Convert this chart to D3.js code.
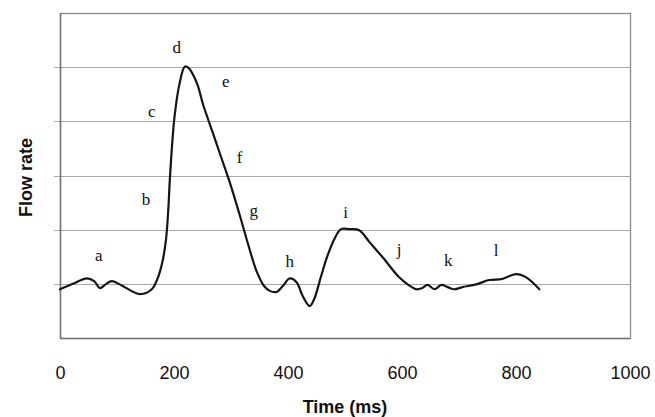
<!DOCTYPE html>
<html>
<head>
<meta charset="utf-8">
<script src="https://cdn.jsdelivr.net/npm/d3@7"></script>
<style>
  body { margin: 0; background: #fff; }
  .chart text { font-family: "Liberation Sans", Arial, sans-serif; }
</style>
</head>
<body>
<div class="chart"></div>
<script>
// flow trace (time in ms, flow in grid units)
const time = [0, 25, 47, 60, 70, 80, 91, 110, 140, 161, 172, 180, 186, 190, 193, 201, 210, 219, 225, 240,
  251, 268, 280, 298, 315, 330, 345, 358, 368, 380, 391, 403, 415, 426, 438, 446, 458, 469, 481, 493,
  508, 525, 543, 566, 595, 610, 625, 635, 645, 657, 669, 680, 692, 706, 730, 753, 776, 800, 818, 841]
const flow = [0.90, 1.01, 1.10, 1.05, 0.92, 0.99, 1.05, 0.96, 0.81, 0.90, 1.12, 1.42, 1.82, 2.37, 2.98, 4.09, 4.71, 5.01, 4.99, 4.71,
  4.31, 3.79, 3.42, 2.87, 2.28, 1.73, 1.23, 0.96, 0.87, 0.85, 0.96, 1.10, 1.03, 0.77, 0.59, 0.72, 1.14, 1.51, 1.82, 2.01,
  2.01, 1.99, 1.77, 1.49, 1.12, 0.99, 0.90, 0.92, 0.98, 0.90, 0.98, 0.94, 0.90, 0.94, 0.99, 1.07, 1.09, 1.18, 1.12, 0.90]

// phase letters and where they sit
const labels = ["a", "b", "c", "d", "e", "f", "g", "h", "i", "j", "k", "l"]
const labelTime = [68, 151, 161, 205, 291, 315, 340, 403, 501, 595, 681, 765]
const labelFlow = [1.53, 2.56, 4.18, 5.36, 4.73, 3.33, 2.36, 1.42, 2.32, 1.64, 1.44, 1.62]

const xTicks = [0, 200, 400, 600, 800, 1000]
const yGrid = [1, 2, 3, 4, 5]

const width = 655
const height = 417
const margin = ({top: 13, right: 25, bottom: 79, left: 60})

const x = d3.scaleLinear()
    .domain([0, 1000])
    .range([margin.left, width - margin.right])

const y = d3.scaleLinear()
    .domain([0, 6])
    .range([height - margin.bottom, margin.top])

const svg = d3.create("svg")
    .attr("width", width)
    .attr("height", height)

// horizontal gridlines (with the little outside ticks on the left)
svg.append("g")
    .selectAll("line")
    .data(yGrid)
    .join("line")
    .attr("x1", x(0) - 6)
    .attr("x2", x(1000))
    .attr("y1", d => Math.round(y(d)) + 0.5)
    .attr("y2", d => Math.round(y(d)) + 0.5)
    .attr("stroke", "#a8a8a8")
    .attr("stroke-width", 1.2)

// plot frame
svg.append("rect")
    .attr("x", x(0) + 0.5)
    .attr("y", y(6) + 0.5)
    .attr("width", x(1000) - x(0))
    .attr("height", y(0) - y(6))
    .attr("fill", "none")
    .attr("stroke", "#8a8a8a")
    .attr("stroke-width", 1.3)

svg.append("line")
    .attr("x1", x(0) + 0.5).attr("x2", x(0) + 0.5)
    .attr("y1", y(6)).attr("y2", y(0))
    .attr("stroke", "#777")
    .attr("stroke-width", 1.5)

svg.append("line")
    .attr("x1", x(0)).attr("x2", x(1000))
    .attr("y1", y(0) + 0.5).attr("y2", y(0) + 0.5)
    .attr("stroke", "#777")
    .attr("stroke-width", 1.5)

// x axis labels
const xAxis = g => g
    .attr("transform", `translate(0,${y(0)})`)
    .call(d3.axisBottom(x).tickValues(xTicks).tickFormat(d3.format("d")).tickSize(0).tickPadding(28))
    .call(g => g.select(".domain").remove())
    .call(g => g.selectAll("text")
        .style("font-family", "'Liberation Sans', Arial, sans-serif")
        .style("font-size", "18px")
        .attr("fill", "#111"))

svg.append("g").call(xAxis)

svg.append("text")
    .attr("x", 345)
    .attr("y", 413)
    .attr("text-anchor", "middle")
    .style("font-size", "18px")
    .style("font-weight", "bold")
    .attr("fill", "#111")
    .text("Time (ms)")

svg.append("text")
    .attr("transform", `translate(32,${(y(0) + y(6)) / 2 + 2}) rotate(-90)`)
    .attr("text-anchor", "middle")
    .style("font-size", "18px")
    .style("font-weight", "bold")
    .attr("fill", "#111")
    .text("Flow rate")

// flow curve
const points = time.map((t, i) => ({t: t, v: flow[i]}))

const line = d3.line()
    .x(d => x(d.t))
    .y(d => y(d.v))
    .curve(d3.curveCatmullRom.alpha(0.5))

svg.append("path")
    .datum(points)
    .attr("fill", "none")
    .attr("stroke", "#151515")
    .attr("stroke-width", 2.2)
    .attr("stroke-linejoin", "round")
    .attr("stroke-linecap", "round")
    .attr("d", line)

// letters
svg.append("g")
    .selectAll("text")
    .data(labels)
    .join("text")
    .attr("x", (d, i) => x(labelTime[i]))
    .attr("y", (d, i) => y(labelFlow[i]))
    .attr("text-anchor", "middle")
    .attr("dominant-baseline", "central")
    .style("font-family", "'Liberation Serif', 'Times New Roman', serif")
    .style("font-size", "17px")
    .attr("fill", "#111")
    .text(d => d)

document.querySelector(".chart").appendChild(svg.node());
</script>
</body>
</html>
